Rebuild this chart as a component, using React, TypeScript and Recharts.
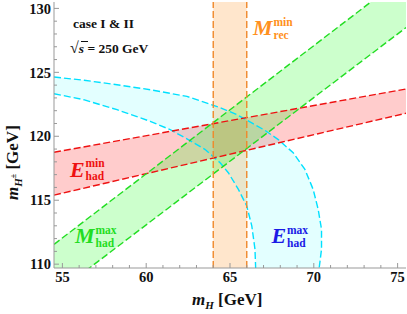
import React from "react";
import {
  ComposedChart,
  Area,
  Line,
  XAxis,
  YAxis,
  ReferenceArea,
  ReferenceLine,
} from "recharts";

// band edges (x = m_H, y = m_H±)
const xEdges = [54.5, 75.5];
const eMinLow = [115.4, 121.8];
const eMinHigh = [118.75, 123.7];
const mMaxLow = [107.6, 128.5];
const mMaxHigh = [111.55, 132.6];
const mRecMin = [64, 66];

const eMaxOuterX = [54.5, 56.3, 58.26, 60.24, 62.43, 64.31, 65.4, 66.3, 67.1, 67.88, 68.77, 69.47, 69.96, 70.26, 70.46, 70.46, 70.32];
const eMaxOuterY = [124.63, 124.38, 124.03, 123.64, 123.12, 122.29, 121.7, 121.05, 120.45, 119.74, 118.71, 117.41, 115.85, 114.29, 112.73, 111.17, 109.7];
const eMaxInnerX = [54.5, 56.27, 58.26, 60.24, 61.43, 62.43, 63.52, 64.41, 64.9, 65.5, 66.0, 66.3, 66.49, 66.53];
const eMaxInnerY = [123.33, 122.86, 122.08, 121.17, 120.52, 119.8, 118.96, 117.93, 117.15, 115.85, 114.55, 112.99, 111.17, 109.7];

const xTicks = [55, 56, 57, 58, 59, 60, 61, 62, 63, 64, 65, 66, 67, 68, 69, 70, 71, 72, 73, 74, 75];
const yTicks = [110, 111, 112, 113, 114, 115, 116, 117, 118, 119, 120, 121, 122, 123, 124, 125, 126, 127, 128, 129, 130];

const X_DOMAIN = [54.5, 75.5];
const Y_DOMAIN = [109.7, 130.5];

const FRAME = "#999";
const SERIF = "'Liberation Serif', 'Times New Roman', serif";

const redRows = xEdges.map((x, i) => ({ x, band: [eMinLow[i], eMinHigh[i]], lo: eMinLow[i], hi: eMinHigh[i] }));
const greenRows = xEdges.map((x, i) => ({ x, band: [mMaxLow[i], mMaxHigh[i]], lo: mMaxLow[i], hi: mMaxHigh[i] }));
const outerRows = eMaxOuterX.map((x, i) => ({ x, y: eMaxOuterY[i] }));
const innerRows = eMaxInnerX.map((x, i) => ({ x, y: eMaxInnerY[i] }));

const isMajor = (v: number) => Math.round(v) % 5 === 0;

const BottomTick = ({ x, y, payload }: any) => (
  <g>
    <line x1={x} x2={x} y1={y} y2={y - (isMajor(payload.value) ? 5 : 3)} stroke={FRAME} />
    {isMajor(payload.value) && (
      <text x={x} y={y + 14} textAnchor="middle" fontFamily={SERIF} fontWeight="bold" fontSize={14.5} fill="#111">
        {payload.value}
      </text>
    )}
  </g>
);

const TopTick = ({ x, y, payload }: any) => (
  <line x1={x} x2={x} y1={y} y2={y + (isMajor(payload.value) ? 5 : 3)} stroke={FRAME} />
);

const LeftTick = ({ x, y, payload }: any) => (
  <g>
    <line x1={x} x2={x + (isMajor(payload.value) ? 5 : 3)} y1={y} y2={y} stroke={FRAME} />
    {isMajor(payload.value) && (
      <text x={x - 3} y={y} dy="0.36em" textAnchor="end" fontFamily={SERIF} fontWeight="bold" fontSize={14.5} fill="#111">
        {payload.value}
      </text>
    )}
  </g>
);

const RightTick = ({ x, y, payload }: any) => (
  <line x1={x} x2={x - (isMajor(payload.value) ? 5 : 3)} y1={y} y2={y} stroke={FRAME} />
);

// big italic letter with stacked super/subscript
const Tag = ({ x, y, big, sup, sub, color }: any) => {
  const sx = x + (big === "M" ? 20.5 : 15.5);
  return (
    <g fontFamily={SERIF} fontWeight="bold" fill={color}>
      <text x={x} y={y} fontStyle="italic" fontSize={22}>{big}</text>
      <text x={sx} y={y - 9.5} fontSize={11.5}>{sup}</text>
      <text x={sx} y={y + 3.5} fontSize={11.5}>{sub}</text>
    </g>
  );
};

const dash = "7 3";

export default function App() {
  return (
    <div style={{ position: "absolute", left: 0, top: 0, width: 407, height: 314, background: "#fff" }}>
      <ComposedChart width={407} height={314} margin={{ top: 2, right: 1, left: 0, bottom: 0 }}>
        <XAxis
          dataKey="x"
          type="number"
          domain={X_DOMAIN}
          allowDataOverflow
          ticks={xTicks}
          interval={0}
          height={46}
          tickSize={0}
          tickMargin={0}
          tick={<BottomTick />}
          axisLine={{ stroke: FRAME }}
        />
        <XAxis
          xAxisId="top"
          orientation="top"
          dataKey="x"
          type="number"
          domain={X_DOMAIN}
          allowDataOverflow
          ticks={xTicks}
          interval={0}
          height={0}
          tickSize={0}
          tickMargin={0}
          tick={<TopTick />}
          axisLine={{ stroke: FRAME }}
        />
        <YAxis
          type="number"
          domain={Y_DOMAIN}
          allowDataOverflow
          ticks={yTicks}
          interval={0}
          width={54}
          tickSize={0}
          tickMargin={0}
          tick={<LeftTick />}
          axisLine={{ stroke: FRAME }}
        />
        <YAxis
          yAxisId="right"
          orientation="right"
          type="number"
          domain={Y_DOMAIN}
          allowDataOverflow
          ticks={yTicks}
          interval={0}
          width={0}
          tickSize={0}
          tickMargin={0}
          tick={<RightTick />}
          axisLine={{ stroke: FRAME }}
        />

        {/* E_had^max: fill under outer arc, then blank out under inner arc */}
        <Area data={outerRows} dataKey="y" type="linear" baseValue={Y_DOMAIN[0]} fill="#00ffff" fillOpacity={0.11} stroke="none" isAnimationActive={false} />
        <Area data={innerRows} dataKey="y" type="linear" baseValue={Y_DOMAIN[0]} fill="#ffffff" fillOpacity={1} stroke="none" isAnimationActive={false} />

        <ReferenceArea x1={mRecMin[0]} x2={mRecMin[1]} fill="#ff8000" fillOpacity={0.2} stroke="none" ifOverflow="hidden" />

        <Area data={redRows} dataKey="band" type="linear" fill="#ff0000" fillOpacity={0.2} stroke="none" isAnimationActive={false} />
        <Area data={greenRows} dataKey="band" type="linear" fill="#00ff00" fillOpacity={0.2} stroke="none" isAnimationActive={false} />

        <Line data={outerRows} dataKey="y" type="linear" stroke="#00e0ff" strokeWidth={1.4} strokeDasharray={dash} dot={false} isAnimationActive={false} />
        <Line data={innerRows} dataKey="y" type="linear" stroke="#00e0ff" strokeWidth={1.4} strokeDasharray={dash} dot={false} isAnimationActive={false} />
        <Line data={redRows} dataKey="lo" type="linear" stroke="#ee1111" strokeWidth={1.4} strokeDasharray={dash} dot={false} isAnimationActive={false} />
        <Line data={redRows} dataKey="hi" type="linear" stroke="#ee1111" strokeWidth={1.4} strokeDasharray={dash} dot={false} isAnimationActive={false} />
        <Line data={greenRows} dataKey="lo" type="linear" stroke="#22dd22" strokeWidth={1.4} strokeDasharray={dash} dot={false} isAnimationActive={false} />
        <Line data={greenRows} dataKey="hi" type="linear" stroke="#22dd22" strokeWidth={1.4} strokeDasharray={dash} dot={false} isAnimationActive={false} />

        <ReferenceLine x={mRecMin[0]} stroke="#f0882a" strokeWidth={1.4} strokeDasharray={dash} />
        <ReferenceLine x={mRecMin[1]} stroke="#f0882a" strokeWidth={1.4} strokeDasharray={dash} />
      </ComposedChart>

      <svg width={407} height={314} style={{ position: "absolute", left: 0, top: 0, pointerEvents: "none" }}>
        <text x={73} y={28} fontFamily={SERIF} fontWeight="bold" fontSize={13.5} fill="#111">case I &amp; II</text>
        <text x={70} y={53} fontFamily={SERIF} fontWeight="bold" fontSize={13.5} fill="#111">
          <tspan fontSize={16}>√</tspan>
          <tspan fontStyle="italic">s</tspan>
          <tspan> = 250 GeV</tspan>
        </text>
        <line x1={81} x2={88} y1={41.5} y2={41.5} stroke="#111" strokeWidth={1} />

        <Tag x={253} y={35} big="M" sup="min" sub="rec" color="#ff9020" />
        <Tag x={70} y={176.5} big="E" sup="min" sub="had" color="#ee1111" />
        <Tag x={75} y={243} big="M" sup="max" sub="had" color="#22dd22" />
        <Tag x={271.5} y={243} big="E" sup="max" sub="had" color="#1a1ae6" />

        <text x={192} y={305} fontFamily={SERIF} fontWeight="bold" fontSize={17} fill="#111">
          <tspan fontStyle="italic">m</tspan>
          <tspan fontStyle="italic" fontSize={11} dy={4}>H</tspan>
          <tspan dy={-4}> [GeV]</tspan>
        </text>
        <text transform="translate(18,200) rotate(-90)" fontFamily={SERIF} fontWeight="bold" fontSize={17} fill="#111">
          <tspan fontStyle="italic">m</tspan>
          <tspan fontStyle="italic" fontSize={11} dy={4}>H</tspan>
          <tspan fontSize={8} dy={-6}>±</tspan>
          <tspan dy={2}> [GeV]</tspan>
        </text>
      </svg>
    </div>
  );
}
